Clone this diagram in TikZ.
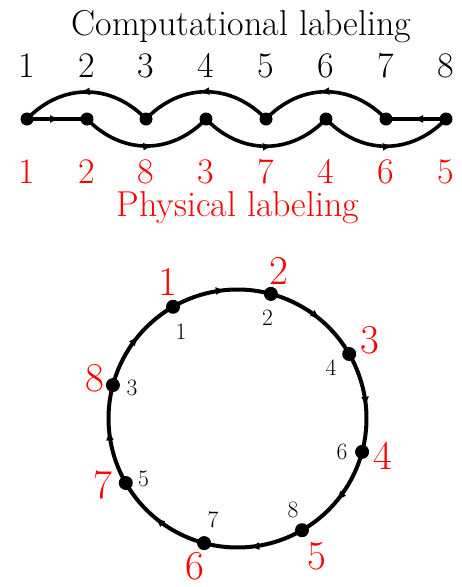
\documentclass[tikz,border=0pt]{standalone}
\usepackage{fontspec}
\usetikzlibrary{arrows.meta,decorations.markings}
\tikzset{
  dot/.style={circle,fill=black,inner sep=0pt,minimum size=13pt},
  cdot/.style={circle,fill=black,inner sep=0pt,minimum size=14pt},
  edge/.style={line width=3.6pt,postaction={decorate},decoration={markings,mark=at position 0.55 with {\arrow{Latex[length=10pt,width=8pt]}}}},
  cedge/.style={line width=4pt,postaction={decorate},decoration={markings,mark=at position 0.55 with {\arrow{Latex[length=10pt,width=8pt]}}}},
  toplab/.style={anchor=base,inner sep=0pt,font=\fontsize{36}{42}\selectfont},
  redlab/.style={toplab,text=red},
  title/.style={anchor=base,inner sep=0pt,font=\fontsize{36}{42}\selectfont},
  cred/.style={inner sep=0pt,text=red,font=\fontsize{41}{48}\selectfont},
  cblk/.style={inner sep=0pt,font=\fontsize{23.5}{28}\selectfont},
}
\begin{document}
\begin{tikzpicture}[x=1pt,y=1pt]
\useasboundingbox (0,0) rectangle (462,-587);
% top row
\node[title] (tc) at (241.5,-35) {Computational labeling};
\node[title,text=red] (tp) at (238,-216) {Physical labeling};
\foreach \i/\x/\c/\p in {1/27/1/1,2/87/2/2,3/146/3/8,4/206/4/3,5/266/5/7,6/326/6/4,7/386/7/6,8/446/8/5}{
  \node[dot] (t\i) at (\x,-119) {};
  \node[toplab] (tl\i) at (\x,-77) {\c};
  \node[redlab] (tr\i) at (\x,-183) {\p};
}
\draw[edge] (t1.center) -- (t2.center);
\draw[edge] (t2.center) to[bend right=46,looseness=1.08] (t4.center);
\draw[edge] (t4.center) to[bend right=46,looseness=1.08] (t6.center);
\draw[edge] (t6.center) to[bend right=46,looseness=1.08] (t8.center);
\draw[edge] (t8.center) -- (t7.center);
\draw[edge] (t7.center) to[bend right=46,looseness=1.08] (t5.center);
\draw[edge] (t5.center) to[bend right=46,looseness=1.08] (t3.center);
\draw[edge] (t3.center) to[bend right=46,looseness=1.08] (t1.center);
% circle
\begin{scope}[shift={(237.5,-418.5)}]
\foreach \k/\a in {1/120,2/75,3/30,4/-15,5/-60,6/-105,7/-150,8/165}{
  \node[cdot] (q\k) at (\a:129) {};
}
\end{scope}
\foreach \k/\n in {1/2,2/3,3/4,4/5,5/6,6/7,7/8,8/1}{
  \draw[cedge] (q\k.center) to[bend left=22.5,looseness=0.885] (q\n.center);
}
\node[cred] (r1) at (168,-282) {1};
\node[cred] (r2) at (278.5,-271) {2};
\node[cred] (r3) at (369.5,-340) {3};
\node[cred] (r4) at (382.5,-456) {4};
\node[cred] (r5) at (316.5,-556) {5};
\node[cred] (r6) at (195,-566) {6};
\node[cred] (r7) at (103,-485) {7};
\node[cred] (r8) at (95,-378) {8};
\node[cblk] (b1) at (181,-332) {1};
\node[cblk] (b2) at (267.5,-318) {2};
\node[cblk] (b4) at (331,-368) {4};
\node[cblk] (b6) at (342,-452) {6};
\node[cblk] (b8) at (293,-510) {8};
\node[cblk] (b7) at (213,-520) {7};
\node[cblk] (b5) at (143.5,-478.5) {5};
\node[cblk] (b3) at (132,-388) {3};
\end{tikzpicture}
\end{document}
